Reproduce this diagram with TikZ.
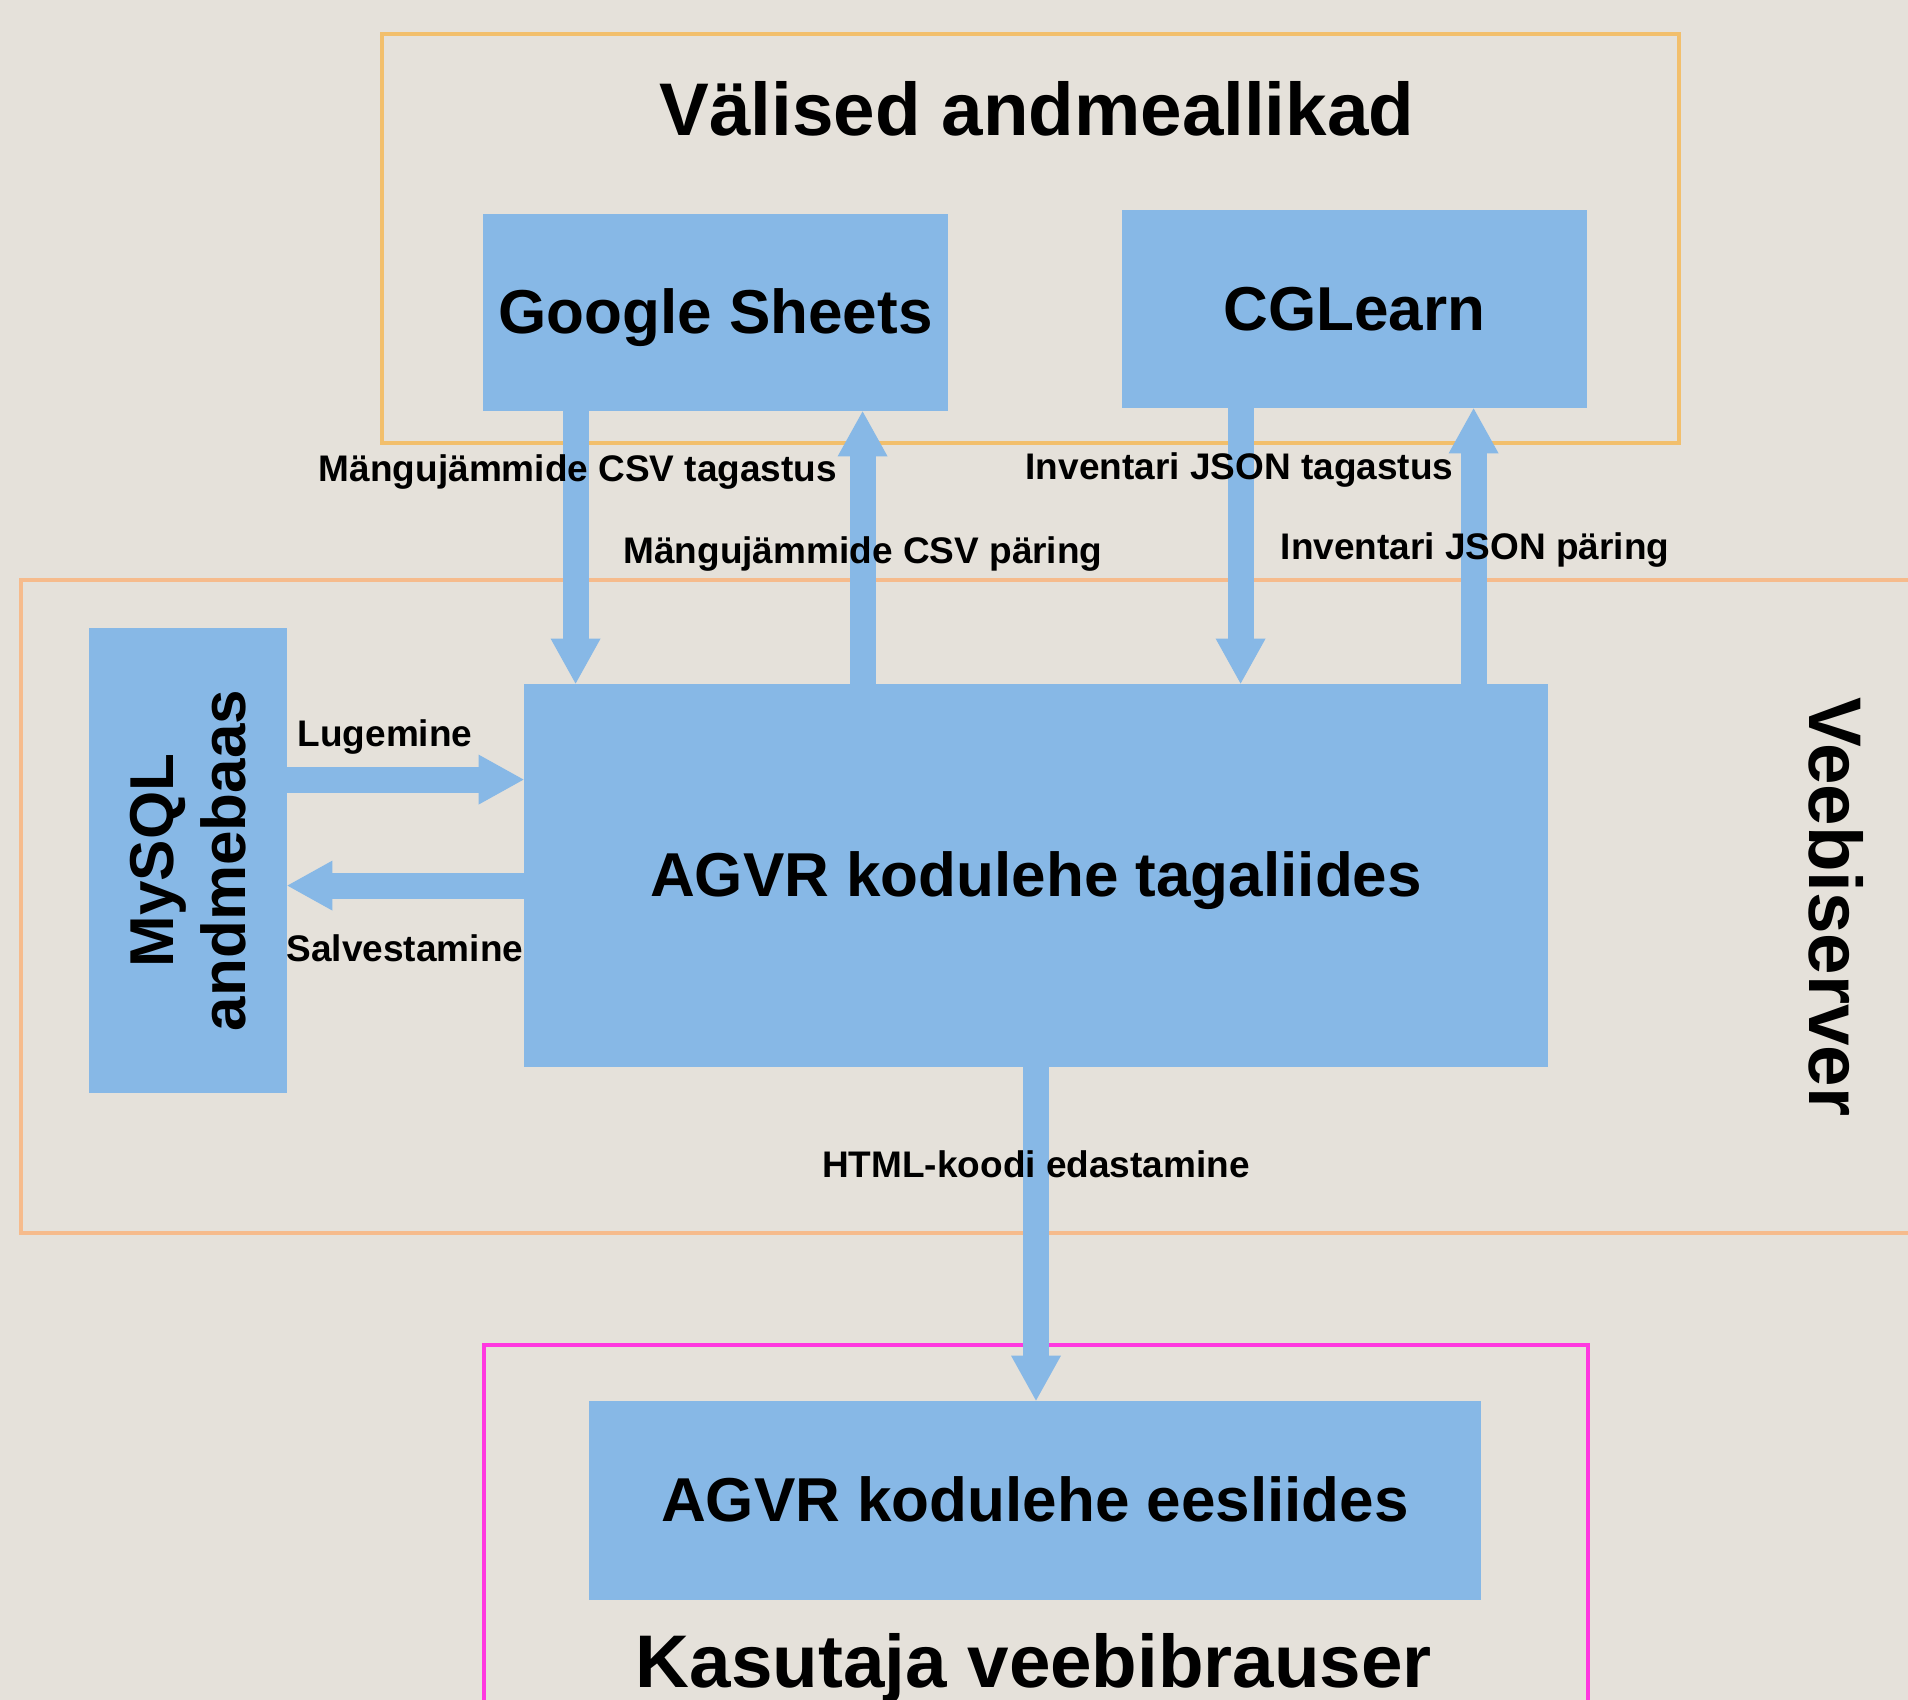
\documentclass[tikz,border=0pt]{standalone}
\usepackage{fontspec}
\setmainfont{Liberation Sans}
\usetikzlibrary{arrows.meta,calc}
\definecolor{bgc}{HTML}{E5E1DA}
\definecolor{boxblue}{HTML}{87B8E6}
\definecolor{goldline}{HTML}{F2BF6C}
\definecolor{salmonline}{HTML}{F6BB8C}
\definecolor{pinkline}{HTML}{FF38E0}
\begin{document}
\begin{tikzpicture}[x=0.5pt,y=-0.5pt,
  box/.style={fill=boxblue, draw=none, inner sep=0pt, text height=28pt, text depth=6.6pt,
    font=\fontsize{31}{36}\selectfont\bfseries},
  boxtext/.style={inner sep=0pt, font=\fontsize{31}{36}\selectfont\bfseries},
  lbl/.style={inner sep=0pt, anchor=base, font=\fontsize{18.5}{22}\selectfont\bfseries},
  ttl/.style={inner sep=0pt, font=\fontsize{37.3}{44}\selectfont\bfseries},
  frame/.style={line width=1.6pt},
  bigarrow/.style={draw=boxblue, line width=13pt,
    -{Triangle[width=25pt,length=22.5pt,line width=0pt]}}]
\clip (0,0) rectangle (1908,1700);
\fill[bgc] (0,0) rectangle (1908,1700);
% containers
\draw[frame, goldline] (382,34) rectangle (1679,443);
\draw[frame, salmonline] (1915,580) -- (21,580) -- (21,1233) -- (1915,1233);
\draw[frame, pinkline] (484,1715) -- (484,1345) -- (1588,1345) -- (1588,1715);
% titles
\node[ttl, anchor=base] (t1) at (1037,136) {Välised andmeallikad};
\node[ttl, anchor=base] (t3) at (1034,1687) {Kasutaja veebibrauser};
\node[ttl, rotate=-90] (t2) at (1836,907) {Veebiserver};
% boxes
\node[box, minimum width=232.5pt, minimum height=98.5pt] (gs) at (715.5,312.5) {Google Sheets};
\node[box, minimum width=232.5pt, minimum height=99pt] (cg) at (1354.5,309) {CGLearn};
\node[box, minimum width=512pt, minimum height=191.5pt] (be) at (1036,875.5) {AGVR kodulehe tagaliides};
\node[box, minimum width=99pt, minimum height=232.5pt] (my) at (188,860.5) {};
\node[boxtext, rotate=90, align=center] (myt) at (my.center) {MySQL\\andmebaas};
\node[box, minimum width=446pt, minimum height=99.5pt] (fe) at (1035,1500.5) {AGVR kodulehe eesliides};
% arrows
\draw[bigarrow] ($(gs.south west)+(93,0)$) -- ($(be.north west)+(52,0)$);
\draw[bigarrow] ($(be.north west)+(339,0)$) -- ($(gs.south west)+(380,0)$);
\draw[bigarrow] ($(cg.south west)+(119,0)$) -- ($(be.north west)+(717,0)$);
\draw[bigarrow] ($(be.north west)+(950,0)$) -- ($(cg.south west)+(352,0)$);
\draw[bigarrow] ($(my.north east)+(0,152)$) -- ($(be.north west)+(0,96)$);
\draw[bigarrow] ($(be.north west)+(0,202)$) -- ($(my.north east)+(0,258)$);
\draw[bigarrow] (be.south) -- (be.south |- fe.north);
% labels
\node[lbl] (l1) at (578,482) {Mängujämmide CSV tagastus};
\node[lbl] (l2) at (863,564) {Mängujämmide CSV päring};
\node[lbl] (l3) at (1239.5,480) {Inventari JSON tagastus};
\node[lbl] (l4) at (1475,560) {Inventari JSON päring};
\node[lbl] (l5) at (385,747) {Lugemine};
\node[lbl] (l6) at (405,961) {Salvestamine};
\node[lbl] (l7) at (1036,1177) {HTML-koodi edastamine};
\end{tikzpicture}
\end{document}
